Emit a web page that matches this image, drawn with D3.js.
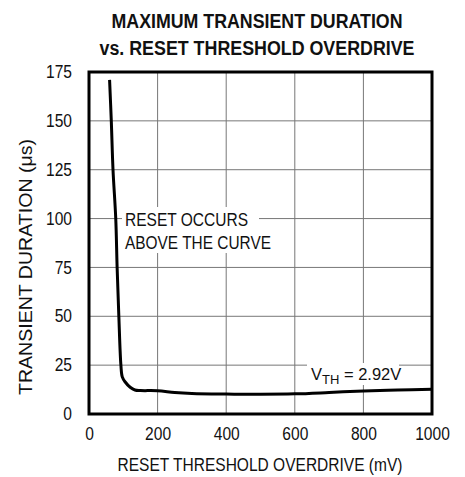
<!DOCTYPE html>
<html>
<head>
<meta charset="utf-8">
<script src="https://cdn.jsdelivr.net/npm/d3@7"></script>
<style>
  body { margin: 0; background: #fff; }
  text { font-family: "Liberation Sans", Arial, sans-serif; fill: #111; }
</style>
</head>
<body>
<div id="chart"></div>
<script>
// values (overdrive in mV, duration in us)
var overdrive = [60, 65, 70, 78, 82, 87, 93, 97, 105, 120, 134, 150, 200, 250, 300, 400, 500, 600, 700, 800, 900, 1000];
var duration  = [171, 150, 125, 100, 75, 50, 25, 19, 16.5, 13.7, 12.3, 12, 11.9, 11, 10.5, 10.2, 10.1, 10.3, 11, 11.8, 12.3, 12.7];
var xTicks = [0, 200, 400, 600, 800, 1000];
var yTicks = [0, 25, 50, 75, 100, 125, 150, 175];
var titleLines = ["MAXIMUM TRANSIENT DURATION", "vs. RESET THRESHOLD OVERDRIVE"];
var noteLines = ["RESET OCCURS", "ABOVE THE CURVE"];

var W = 465, H = 477;
var x = d3.scaleLinear().domain([0, 1000]).range([89, 432]);
var y = d3.scaleLinear().domain([0, 175]).range([414, 72]);

var svg = d3.select("#chart").append("svg")
    .attr("width", W).attr("height", H);

// squeeze text horizontally, like the narrow face of the original
function condense(sel, k) {
    sel.each(function() {
        var len = this.getComputedTextLength();
        d3.select(this).attr("textLength", len * k).attr("lengthAdjust", "spacingAndGlyphs");
    });
}
function fit(sel, w) {
    sel.attr("textLength", w).attr("lengthAdjust", "spacingAndGlyphs");
}

// title
var titleW = [291, 315];
var titleSize = [21, 20];
svg.selectAll(".title").data(titleLines).enter().append("text")
    .attr("class", "title")
    .attr("x", 257).attr("y", function(d, i) { return 28 + i * 27; })
    .attr("text-anchor", "middle")
    .style("font-size", function(d, i) { return titleSize[i] + "px"; })
    .style("font-weight", "bold")
    .text(function(d) { return d; })
    .each(function(d, i) { d3.select(this).call(fit, titleW[i]); });

// grid
svg.append("g").selectAll("line").data(xTicks.slice(1, -1)).enter().append("line")
    .attr("x1", x).attr("x2", x).attr("y1", y(0)).attr("y2", y(175))
    .attr("stroke", "#777").attr("stroke-width", 1);
svg.append("g").selectAll("line").data(yTicks.slice(1, -1)).enter().append("line")
    .attr("y1", y).attr("y2", y).attr("x1", x(0)).attr("x2", x(1000))
    .attr("stroke", "#777").attr("stroke-width", 1);

// axes (labels only)
var xAxis = svg.append("g").attr("transform", "translate(0," + 428 + ")")
    .call(d3.axisBottom(x).tickValues(xTicks).tickFormat(d3.format("d")).tickSize(0).tickPadding(0));
var yAxis = svg.append("g").attr("transform", "translate(" + 72 + ",0)")
    .call(d3.axisLeft(y).tickValues(yTicks).tickFormat(d3.format("d")).tickSize(0).tickPadding(0));
[xAxis, yAxis].forEach(function(a) {
    a.select(".domain").remove();
    a.selectAll("text").attr("font-family", null).style("font-size", "17.5px").style("fill", "#111")
        .call(condense, 0.89);
});
xAxis.selectAll("text").attr("dy", "0.71em");

// axis titles
svg.append("text")
    .attr("x", 260).attr("y", 471)
    .attr("text-anchor", "middle")
    .style("font-size", "18.5px")
    .text("RESET THRESHOLD OVERDRIVE (mV)")
    .call(fit, 285);
svg.append("text")
    .attr("transform", "translate(32,267) rotate(-90)")
    .attr("text-anchor", "middle")
    .style("font-size", "18px")
    .text("TRANSIENT DURATION (\u03bcs)")
    .call(fit, 256);

// annotation boxes (mask the grid behind the labels)
svg.append("rect").attr("x", 122).attr("y", 207).attr("width", 137).attr("height", 46).attr("fill", "#fff");
svg.append("rect").attr("x", 307).attr("y", 363).attr("width", 92).attr("height", 22).attr("fill", "#fff");

var noteW = [123, 146];
svg.selectAll(".note").data(noteLines).enter().append("text")
    .attr("class", "note")
    .attr("x", 125).attr("y", function(d, i) { return 226 + i * 23; })
    .style("font-size", "18px")
    .text(function(d) { return d; })
    .each(function(d, i) { d3.select(this).call(fit, noteW[i]); });

var vth = svg.append("text").attr("x", 311).attr("y", 380).style("font-size", "16.5px");
vth.append("tspan").text("V");
vth.append("tspan").attr("dy", 4).style("font-size", "13px").text("TH");
vth.append("tspan").attr("dy", -4).text(" = 2.92V");

// curve
var pts = overdrive.map(function(d, i) { return [d, duration[i]]; });
svg.append("path").datum(pts)
    .attr("fill", "none").attr("stroke", "#000").attr("stroke-width", 3)
    .attr("stroke-linejoin", "round")
    .attr("d", d3.line().x(function(d) { return x(d[0]); }).y(function(d) { return y(d[1]); })
        .curve(d3.curveCatmullRom.alpha(0.5)));

// frame
svg.append("rect")
    .attr("x", x(0)).attr("y", y(175))
    .attr("width", x(1000) - x(0)).attr("height", y(0) - y(175))
    .attr("fill", "none").attr("stroke", "#000").attr("stroke-width", 3);
</script>
</body>
</html>
